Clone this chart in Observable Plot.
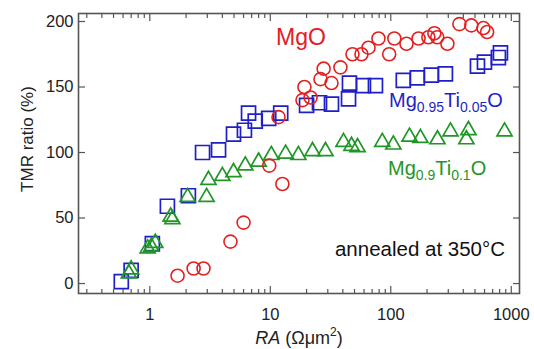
<!DOCTYPE html>
<html><head><meta charset="utf-8">
<script src="https://cdn.jsdelivr.net/npm/d3@7"></script>
<script src="https://cdn.jsdelivr.net/npm/@observablehq/plot@0.6"></script>
<style>body{margin:0;background:#fff;} #chart svg{display:block;}</style>
</head><body><div id="chart"></div>
<script>
// MgO (red circles)
const mgoRA  = [1.70, 2.31, 2.79, 4.67, 6.0, 9.8, 12.6, 11.7, 18.5, 19.2, 21.6, 26.1, 27.7, 32.2, 38.2, 48.1, 57.1, 65.3, 79, 97, 107, 135, 170, 205, 230, 243, 295, 371, 466, 587, 630];
const mgoTMR = [6, 11.5, 11.5, 32, 46.5, 90, 76, 127, 140, 150, 142, 156, 164, 153, 165, 175, 175, 180, 187, 175, 187, 183, 187, 188, 191, 188, 183, 198, 197, 195, 192];
// Mg0.95Ti0.05O (blue squares)
const mg95RA  = [0.58, 0.70, 1.05, 1.40, 2.09, 2.74, 3.72, 4.95, 6.1, 6.6, 7.5, 9.7, 12.2, 20, 25.6, 32.2, 44.6, 45.4, 59.3, 74.6, 127, 166, 217, 284, 524, 599, 782, 813];
const mg95TMR = [1.5, 10, 30.5, 59, 67, 100, 102, 114, 117, 130, 124, 126, 130, 136, 138, 137, 141, 153, 151, 151, 155, 157, 159, 160, 166, 169, 172.5, 176];
// Mg0.9Ti0.1O (green triangles)
const mg90RA  = [0.67, 0.70, 0.96, 1.03, 1.11, 1.49, 1.54, 2.06, 2.96, 3.07, 4.0, 4.95, 6.2, 8.0, 10.2, 13.4, 17.1, 22.4, 28.7, 40.5, 47.2, 53, 85, 105, 143, 176, 244, 313, 424, 441, 879];
const mg90TMR = [7.6, 10.7, 26.7, 28, 31, 51, 49, 66, 66, 79, 82, 85, 90, 93, 98, 99, 98, 101, 101, 108, 105, 104, 108, 106, 112, 111, 110, 116, 110, 117, 116];

const xMajorTicks = [1, 10, 100, 1000];
const xMinorTicks = [0.3,0.4,0.5,0.6,0.7,0.8,0.9, 2,3,4,5,6,7,8,9, 20,30,40,50,60,70,80,90, 200,300,400,500,600,700,800,900];
const yTicks = [0, 50, 100, 150, 200];

const toRows = (xs, ys) => xs.map((x, i) => ({x, y: ys[i]}));
const red = "#e3201f", blue = "#1f1fc8", green = "#1f9626", axisCol = "#555";
const font = "'Liberation Sans', Arial, sans-serif";

const W = 534, H = 349;
const plot = Plot.plot({
  width: W, height: H,
  marginLeft: 78, marginRight: 15, marginTop: 13, marginBottom: 56,
  style: {fontFamily: font, fontSize: "16.5px", color: "#222", background: "#fff"},
  x: {type: "log", domain: [0.256, 1170]},
  y: {domain: [-7.6, 206.1]},
  marks: [
    Plot.dot(toRows(mg95RA, mg95TMR), {x: "x", y: "y", symbol: "square", r: 7.9, stroke: blue, strokeWidth: 1.7, fill: "none"}),
    Plot.dot(toRows(mg90RA, mg90TMR), {x: "x", y: "y", symbol: "triangle", r: 5.6, stroke: green, strokeWidth: 1.7, fill: "none"}),
    Plot.dot(toRows(mgoRA, mgoTMR), {x: "x", y: "y", symbol: "circle", r: 6.5, stroke: red, strokeWidth: 1.6, fill: "none"}),
    Plot.axisX({anchor: "bottom", ticks: xMajorTicks, tickSize: -7, tickPadding: 22, tickFormat: d => String(d), label: null, stroke: axisCol, strokeWidth: 1.2}),
    Plot.axisX({anchor: "bottom", ticks: xMinorTicks, tickSize: -4, tickFormat: () => "", label: null, stroke: axisCol, strokeWidth: 1.2}),
    Plot.axisX({anchor: "top", ticks: xMajorTicks, tickSize: -7, tickFormat: () => "", label: null, stroke: axisCol, strokeWidth: 1.2}),
    Plot.axisX({anchor: "top", ticks: xMinorTicks, tickSize: -4, tickFormat: () => "", label: null, stroke: axisCol, strokeWidth: 1.2}),
    Plot.axisY({anchor: "left", ticks: yTicks, tickSize: -7, tickPadding: 12, label: null, stroke: axisCol, strokeWidth: 1.2}),
    Plot.axisY({anchor: "right", ticks: yTicks, tickSize: -7, tickFormat: () => "", label: null, stroke: axisCol, strokeWidth: 1.2}),
    Plot.frame({stroke: axisCol, strokeWidth: 1.6})
  ]
});
document.getElementById("chart").appendChild(plot);

const svg = d3.select(plot);
const g = svg.append("g").attr("font-family", font).attr("text-anchor", "start");

// y axis label
g.append("text").attr("transform", "translate(33,139) rotate(-90)")
  .attr("text-anchor", "middle").attr("font-size", 17).attr("fill", "#222")
  .text("TMR ratio (%)");

// x axis label
const xl = g.append("text").attr("x", 299).attr("y", 344).attr("text-anchor", "middle")
  .attr("font-size", 18).attr("fill", "#222");
xl.append("tspan").attr("font-style", "italic").text("RA");
xl.append("tspan").text(" (Ωμm");
xl.append("tspan").attr("font-size", 12).attr("dy", -8).text("2");
xl.append("tspan").attr("dy", 8).text(")");

// series labels
g.append("text").attr("x", 276).attr("y", 45).attr("font-size", 23).attr("fill", red).text("MgO");

function subLabel(x, y, color, parts) {
  const t = g.append("text").attr("x", x).attr("y", y).attr("font-size", 20).attr("fill", color);
  let down = false;
  parts.forEach(([s, sub]) => {
    if (sub) { t.append("tspan").attr("font-size", 14).attr("dy", 5).text(s); down = true; }
    else { t.append("tspan").attr("dy", down ? -5 : 0).text(s); down = false; }
  });
}
subLabel(389, 107, blue, [["Mg"], ["0.95", 1], ["Ti"], ["0.05", 1], ["O"]]);
subLabel(388, 175, green, [["Mg"], ["0.9", 1], ["Ti"], ["0.1", 1], ["O"]]);

g.append("text").attr("x", 505).attr("y", 256).attr("text-anchor", "end")
  .attr("font-size", 20.5).attr("fill", "#111").text("annealed at 350°C");
</script>
</body></html>
